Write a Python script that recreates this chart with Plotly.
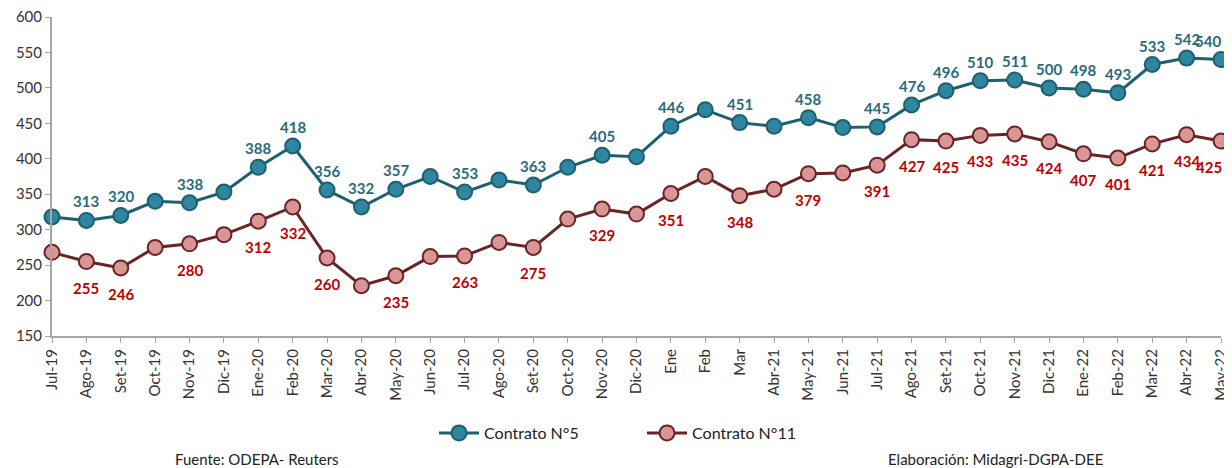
import plotly.graph_objects as go

# ---- Data ----
months = ["Jul-19", "Ago-19", "Set-19", "Oct-19", "Nov-19", "Dic-19",
          "Ene-20", "Feb-20", "Mar-20", "Abr-20", "May-20", "Jun-20",
          "Jul-20", "Ago-20", "Set-20", "Oct-20", "Nov-20", "Dic-20",
          "Ene", "Feb", "Mar", "Abr-21", "May-21", "Jun-21",
          "Jul-21", "Ago-21", "Set-21", "Oct-21", "Nov-21", "Dic-21",
          "Ene-22", "Feb-22", "Mar-22", "Abr-22", "May-22"]

contrato5 = [318, 313, 320, 340, 338, 353,
             388, 418, 356, 332, 357, 375,
             353, 370, 363, 388, 405, 403,
             446, 469, 451, 446, 458, 444,
             445, 476, 496, 510, 511, 500,
             498, 493, 533, 542, 540]

contrato11 = [268, 255, 246, 275, 280, 293,
              312, 332, 260, 221, 235, 262,
              263, 282, 275, 315, 329, 322,
              351, 375, 348, 357, 379, 380,
              391, 427, 425, 433, 435, 424,
              407, 401, 421, 434, 425]

# which points carry a data label
labeled5 = ["Ago-19", "Set-19", "Nov-19", "Ene-20", "Feb-20", "Mar-20", "Abr-20",
            "May-20", "Jul-20", "Set-20", "Nov-20", "Ene", "Mar", "May-21",
            "Jul-21", "Ago-21", "Set-21", "Oct-21", "Nov-21", "Dic-21",
            "Ene-22", "Feb-22", "Mar-22", "Abr-22", "May-22"]
labeled11 = ["Ago-19", "Set-19", "Nov-19", "Ene-20", "Feb-20", "Mar-20",
             "May-20", "Jul-20", "Set-20", "Nov-20", "Ene", "Mar", "May-21",
             "Jul-21", "Ago-21", "Set-21", "Oct-21", "Nov-21", "Dic-21",
             "Ene-22", "Feb-22", "Mar-22", "Abr-22", "May-22"]

FONT = "Lato"
BLUE_LINE = "#1E5F70"
BLUE_FILL = "#2E86A0"
BLUE_TEXT = "#2B6A7C"
RED_LINE = "#6A2326"
RED_FILL = "#D99694"
RED_TEXT = "#C00000"

fig = go.Figure()

fig.add_trace(go.Scatter(
    x=months, y=contrato5, mode="lines+markers", name="Contrato N°5",
    line=dict(color=BLUE_LINE, width=3),
    marker=dict(size=15, color=BLUE_FILL, line=dict(color=BLUE_LINE, width=2)),
    cliponaxis=False
))
fig.add_trace(go.Scatter(
    x=months, y=contrato11, mode="lines+markers", name="Contrato N°11",
    line=dict(color=RED_LINE, width=3),
    marker=dict(size=15, color=RED_FILL, line=dict(color=RED_LINE, width=2)),
    cliponaxis=False
))

# ---- Data labels ----
# the last label of each series is nudged left so it stays inside the page
annotations = []
for m, v in zip(months, contrato5):
    if m in labeled5:
        annotations.append(dict(x=m, y=v, text=str(v), showarrow=False, yshift=19,
                                xshift=-13 if m == months[-1] else 0,
                                font=dict(family=FONT, size=15, color=BLUE_TEXT, weight="bold")))
for m, v in zip(months, contrato11):
    if m in labeled11:
        annotations.append(dict(x=m, y=v, text=str(v), showarrow=False, yshift=-26,
                                xshift=-12 if m == months[-1] else 0,
                                font=dict(family=FONT, size=15, color=RED_TEXT, weight="bold")))

# footer notes
annotations.append(dict(x=0.175, y=-0.386, xref="paper", yref="paper",
                        xanchor="center", yanchor="middle",
                        text="Fuente: ODEPA- Reuters", showarrow=False,
                        font=dict(family=FONT, size=15, color="#222222")))
annotations.append(dict(x=0.807, y=-0.386, xref="paper", yref="paper",
                        xanchor="center", yanchor="middle",
                        text="Elaboración: Midagri-DGPA-DEE", showarrow=False,
                        font=dict(family=FONT, size=15, color="#222222")))

# the page body adds an 8px margin, so the figure is shrunk by that much
fig.update_layout(
    width=1224, height=460,
    margin=dict(l=44, r=11, t=9, b=132, autoexpand=False),
    plot_bgcolor="white", paper_bgcolor="white",
    font=dict(family=FONT, color="#404040"),
    showlegend=True,
    legend=dict(orientation="h", x=0.3268, xanchor="left", y=-0.304, yanchor="middle",
                font=dict(family=FONT, size=16, color="#222222"),
                entrywidth=153, entrywidthmode="pixels", itemwidth=40,
                bgcolor="rgba(0,0,0,0)"),
    xaxis=dict(type="category", range=[0, len(months) - 1], tickangle=-90,
               showline=True, linecolor="#A6A6A6", linewidth=2,
               ticks="outside", ticklen=5, tickcolor="#A6A6A6",
               tickfont=dict(family=FONT, size=15, color="#333333"),
               showgrid=False),
    yaxis=dict(range=[150, 600], dtick=50,
               showline=True, linecolor="#A6A6A6", linewidth=2,
               ticks="outside", ticklen=5, tickcolor="#A6A6A6",
               tickfont=dict(family=FONT, size=15, color="#333333"),
               ticklabeloverflow="allow",
               showgrid=False, zeroline=False),
    annotations=annotations,
)

fig.write_html("out.html")
